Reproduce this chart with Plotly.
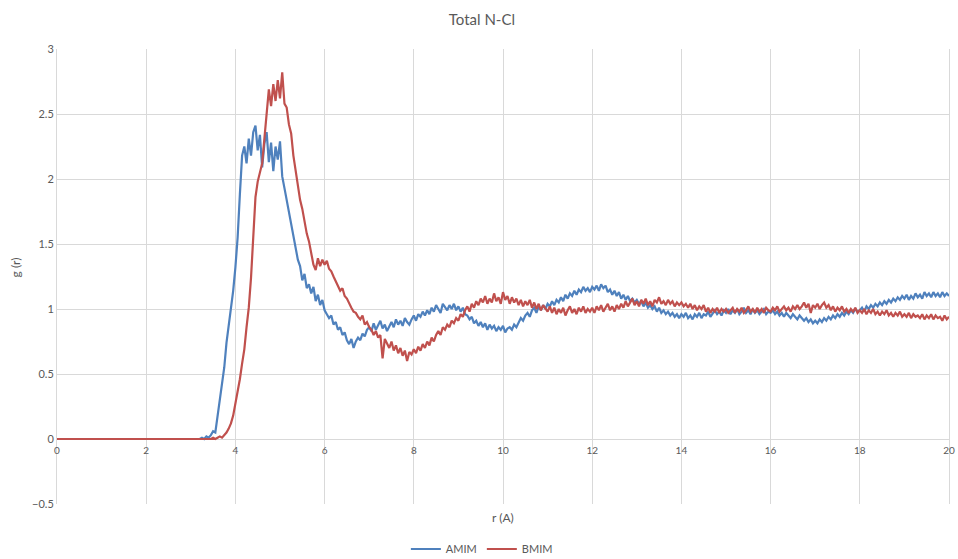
import numpy as np
import plotly.graph_objects as go

# r grid (Angstrom): a few points across the empty region, then 0.05 steps
r = np.round(np.concatenate([[0.0, 1.0, 2.0], np.arange(3.0, 20.001, 0.05)]), 2)

amim = [
    0.0, 0.0, 0.0,
    0, 0, 0, 0, 0, 0.01, 0, 0.02, 0.01, 0.03, 0.06, 0.05, 0.17, 0.28, 0.42, 0.55, 0.74, 0.86, 1.00, 1.14,
    1.32, 1.55, 1.88, 2.18, 2.25, 2.12, 2.31, 2.18, 2.36, 2.41, 2.22, 2.34, 2.09, 2.27, 2.36, 2.13, 2.28, 2.06, 2.25, 2.15,
    2.29, 2.02, 1.93, 1.84, 1.75, 1.66, 1.55, 1.48, 1.38, 1.33, 1.22, 1.27, 1.16, 1.19, 1.12, 1.17, 1.06, 1.11, 1.03, 1.07,
    0.99, 0.96, 0.93, 0.95, 0.88, 0.90, 0.84, 0.86, 0.80, 0.82, 0.76, 0.73, 0.77, 0.70, 0.75, 0.78, 0.76, 0.81, 0.79, 0.84,
    0.86, 0.83, 0.89, 0.84, 0.88, 0.91, 0.85, 0.88, 0.83, 0.87, 0.90, 0.86, 0.92, 0.88, 0.91, 0.87, 0.93, 0.90, 0.88, 0.92,
    0.95, 0.91, 0.96, 0.94, 0.98, 0.95, 0.99, 0.96, 1.01, 0.98, 1.03, 1.00, 0.97, 1.04, 1.01, 0.99, 1.03, 1.00, 1.04, 0.99,
    1.02, 0.98, 1.01, 0.96, 0.95, 0.92, 0.94, 0.89, 0.91, 0.87, 0.90, 0.86, 0.89, 0.84, 0.88, 0.85, 0.87, 0.83, 0.86, 0.84,
    0.87, 0.82, 0.85, 0.86, 0.84, 0.88, 0.86, 0.90, 0.93, 0.91, 0.95, 0.97, 0.94, 0.99, 1.01, 0.97, 1.02, 0.99, 1.03, 1.00,
    1.04, 1.02, 1.06, 1.03, 1.07, 1.05, 1.09, 1.06, 1.11, 1.08, 1.12, 1.10, 1.14, 1.11, 1.15, 1.13, 1.17, 1.14, 1.16, 1.13,
    1.17, 1.15, 1.18, 1.14, 1.19, 1.16, 1.18, 1.13, 1.15, 1.11, 1.14, 1.10, 1.13, 1.08, 1.11, 1.07, 1.10, 1.06, 1.08, 1.05,
    1.07, 1.04, 1.06, 1.02, 1.05, 1.01, 1.03, 1.00, 1.02, 0.98, 1.01, 0.97, 0.99, 0.96, 0.98, 0.95, 0.97, 0.94, 0.96, 0.93,
    0.96, 0.94, 0.97, 0.93, 0.95, 0.92, 0.96, 0.94, 0.97, 0.93, 0.96, 0.95, 0.98, 0.94, 0.97, 0.99, 0.96, 0.98, 0.95, 0.99,
    0.97, 1.00, 0.96, 0.99, 0.97, 1.00, 0.96, 0.98, 1.01, 0.97, 0.99, 0.96, 1.00, 0.97, 0.99, 0.96, 0.98, 1.00, 0.96, 0.98,
    0.97, 0.99, 0.96, 0.98, 0.95, 0.97, 0.94, 0.97, 0.95, 0.93, 0.96, 0.94, 0.92, 0.95, 0.93, 0.91, 0.93, 0.90, 0.92, 0.89,
    0.91, 0.89, 0.92, 0.90, 0.93, 0.91, 0.94, 0.92, 0.95, 0.93, 0.96, 0.94, 0.97, 0.95, 0.98, 0.96, 0.99, 0.97, 1.00, 0.98,
    0.99, 1.01, 0.98, 1.02, 1.00, 1.03, 1.01, 1.04, 1.02, 1.05, 1.03, 1.06, 1.04, 1.07, 1.05, 1.08, 1.06, 1.09, 1.07, 1.10,
    1.08, 1.11, 1.07, 1.10, 1.08, 1.12, 1.09, 1.11, 1.08, 1.13, 1.10, 1.12, 1.09, 1.13, 1.10, 1.12, 1.09, 1.13, 1.10, 1.12,
    1.10,
]

bmim = [
    0.0, 0.0, 0.0,
    0, 0, 0, 0, 0, 0, 0, 0, 0, 0, 0.01, 0, 0.01, 0.02, 0.01, 0.03, 0.05, 0.08, 0.12, 0.18,
    0.27, 0.35, 0.46, 0.58, 0.69, 0.86, 1.01, 1.24, 1.55, 1.86, 1.98, 2.05, 2.12, 2.31, 2.52, 2.69, 2.56, 2.73, 2.60, 2.76,
    2.62, 2.82, 2.58, 2.55, 2.42, 2.35, 2.18, 2.07, 1.96, 1.84, 1.77, 1.66, 1.58, 1.52, 1.44, 1.34, 1.30, 1.39, 1.33, 1.38,
    1.34, 1.37, 1.31, 1.29, 1.25, 1.21, 1.17, 1.14, 1.16, 1.10, 1.08, 1.04, 1.01, 0.98, 0.97, 0.94, 0.92, 0.95, 0.88, 0.90,
    0.86, 0.84, 0.80, 0.83, 0.78, 0.80, 0.62, 0.77, 0.74, 0.70, 0.75, 0.68, 0.72, 0.66, 0.70, 0.64, 0.68, 0.60, 0.67, 0.65,
    0.69, 0.66, 0.71, 0.68, 0.73, 0.70, 0.75, 0.72, 0.78, 0.75, 0.80, 0.83, 0.80, 0.86, 0.84, 0.88, 0.86, 0.91, 0.89, 0.93,
    0.91, 0.96, 0.94, 0.99, 1.02, 0.98, 1.04, 1.01, 1.06, 1.03, 1.08, 1.05, 1.10, 1.04, 1.08, 1.05, 1.12, 1.06, 1.09, 1.04,
    1.13, 1.07, 1.10, 1.04, 1.09, 1.05, 1.08, 1.03, 1.07, 1.02, 1.06, 1.03, 1.07, 1.01, 1.05, 1.00, 1.04, 0.99, 1.03, 1.00,
    0.98, 1.02, 0.97, 1.01, 0.96, 1.00, 0.97, 1.01, 0.95, 0.99, 1.02, 0.97, 1.00, 0.96, 1.01, 0.98, 1.02, 0.97, 1.00, 0.98,
    1.01, 0.97, 1.02, 0.99, 1.03, 0.98, 1.01, 1.04, 0.99, 1.02, 0.98, 1.03, 1.00, 1.04, 1.01, 1.06, 1.02, 1.05, 1.08, 1.03,
    1.06, 1.02, 1.07, 1.04, 1.08, 1.03, 1.06, 1.02, 1.07, 1.05, 1.09, 1.04, 1.06, 1.03, 1.07, 1.04, 1.06, 1.02, 1.05, 1.03,
    1.05, 1.02, 1.04, 1.01, 1.04, 1.00, 1.03, 0.99, 1.02, 1.00, 1.03, 0.98, 1.01, 0.97, 1.00, 0.98, 1.01, 0.97, 1.00, 0.98,
    1.00, 0.97, 0.99, 1.01, 0.97, 1.00, 0.98, 1.01, 0.97, 0.99, 1.02, 0.98, 1.00, 0.97, 1.01, 0.98, 1.00, 0.97, 1.01, 0.99,
    0.98, 1.01, 0.99, 1.02, 0.98, 1.00, 1.02, 0.99, 1.01, 0.98, 1.02, 1.00, 1.03, 1.00, 1.02, 1.05, 1.01, 1.04, 0.97, 1.03,
    1.01, 1.04, 1.00, 1.03, 1.05, 1.01, 1.03, 0.99, 1.02, 0.98, 1.01, 0.99, 1.02, 0.98, 1.00, 0.97, 1.00, 0.98, 1.01, 0.97,
    0.99, 0.97, 1.00, 0.96, 0.99, 0.97, 1.00, 0.96, 0.98, 0.95, 0.98, 0.96, 0.99, 0.95, 0.97, 0.94, 0.97, 0.95, 0.98, 0.94,
    0.96, 0.94, 0.97, 0.93, 0.96, 0.94, 0.95, 0.93, 0.96, 0.92, 0.95, 0.93, 0.96, 0.92, 0.95, 0.93, 0.94, 0.91, 0.95, 0.92,
    0.94,
]

assert len(amim) == len(r) and len(bmim) == len(r)

series_names = ["AMIM", "BMIM"]
series_colors = ["#4F81BD", "#C0504D"]

GRID = "#d9d9d9"
TEXT = "#595959"

fig = go.Figure()
for name, vals, col in zip(series_names, [amim, bmim], series_colors):
    fig.add_trace(go.Scatter(x=r, y=vals, mode="lines", name=name,
                             line=dict(color=col, width=2.2)))

fig.update_layout(
    width=958, height=559,
    margin=dict(l=57, r=9, t=49, b=55),
    paper_bgcolor="white", plot_bgcolor="white",
    font=dict(family="Lato, Open Sans, sans-serif", color=TEXT, size=11),
    title=dict(text="Total N-Cl", xref="container", x=0.503, xanchor="center",
               yref="container", y=1 - 20 / 559, yanchor="middle",
               font=dict(size=15, color=TEXT)),
    xaxis=dict(range=[0, 20], tick0=0, dtick=2, showgrid=True, gridcolor=GRID,
               gridwidth=1, zeroline=False, showline=False, ticks="",
               anchor="free", position=0.5 / 3.5, automargin=False,
               ticklabelstandoff=4, tickfont=dict(size=10)),
    yaxis=dict(range=[-0.5, 3], tick0=-0.5, dtick=0.5, showgrid=True, gridcolor=GRID,
               gridwidth=1, zeroline=False, showline=True, linecolor=GRID,
               mirror=True, ticks="", automargin=False, tickfont=dict(size=11)),
    legend=dict(orientation="h", xref="container", x=0.503, xanchor="center",
                yref="container", y=1 - 549 / 559, yanchor="middle",
                font=dict(size=11, color=TEXT)),
    annotations=[
        dict(text="r (A)", xref="paper", yref="paper", x=0.5, y=(504 - 517) / 455,
             showarrow=False, xanchor="center", yanchor="middle",
             font=dict(size=12, color=TEXT)),
        dict(text="g (r)", xref="paper", yref="paper", x=(15 - 57) / 892, y=0.52,
             showarrow=False, textangle=-90, xanchor="center", yanchor="middle",
             font=dict(size=12, color=TEXT)),
    ],
)

fig.write_html("out.html")
